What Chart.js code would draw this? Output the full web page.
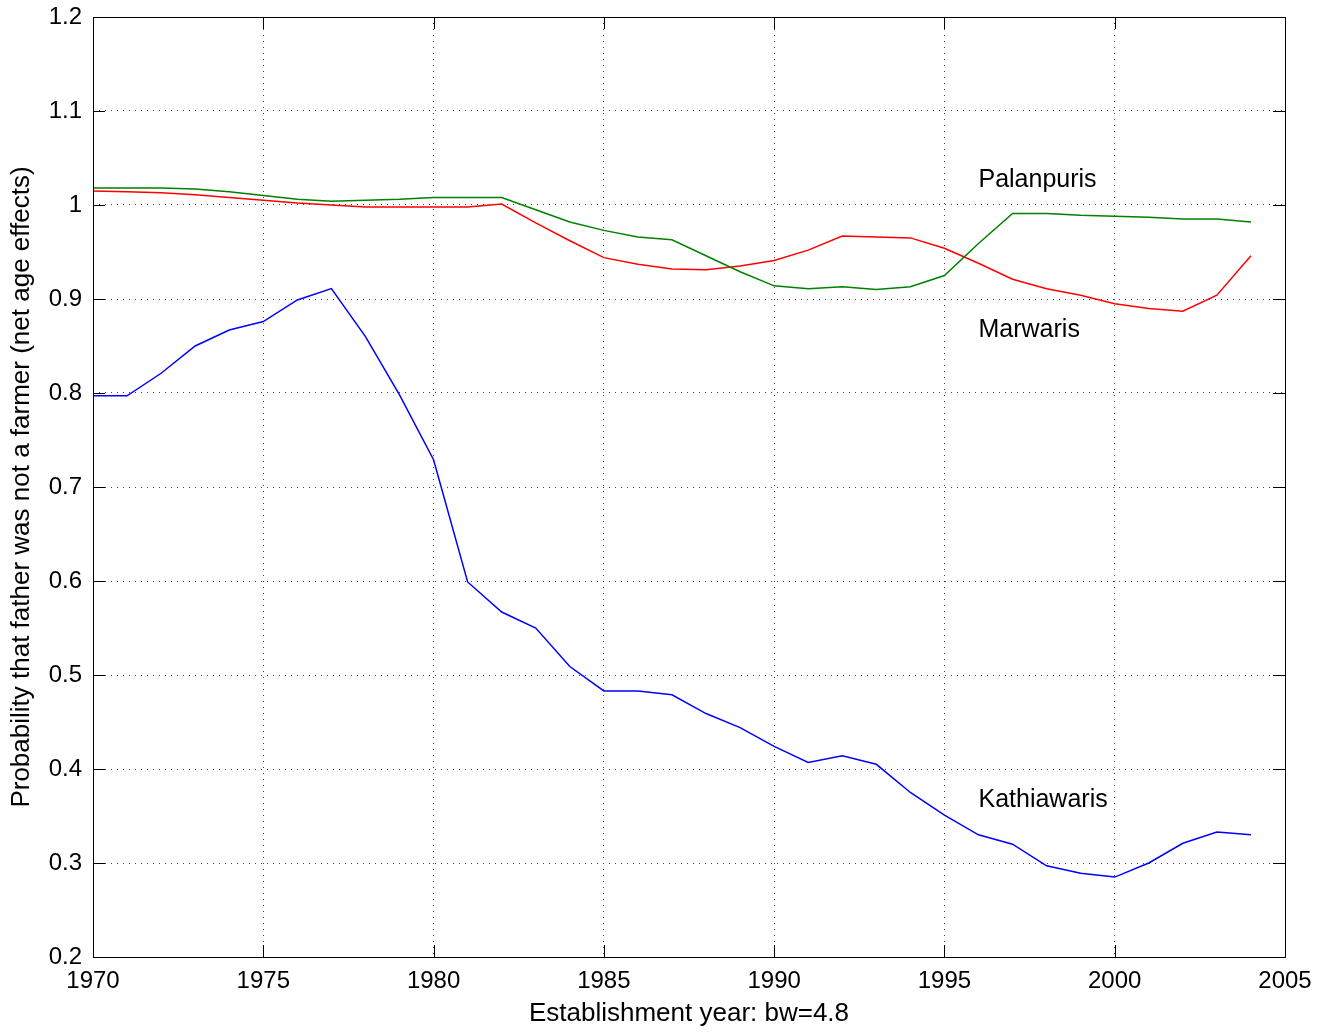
<!DOCTYPE html>
<html>
<head>
<meta charset="utf-8">
<script src="https://cdn.jsdelivr.net/npm/chart.js@4/dist/chart.umd.min.js"></script>
<style>
  html, body { margin: 0; padding: 0; background: #fff; }
  #wrap { width: 1328px; height: 1035px; }
</style>
</head>
<body>
<div id="wrap"><canvas id="chart" width="1328" height="1035"></canvas></div>
<script>
  const years = [1970, 1971, 1972, 1973, 1974, 1975, 1976, 1977, 1978, 1979,
    1980, 1981, 1982, 1983, 1984, 1985, 1986, 1987, 1988, 1989,
    1990, 1991, 1992, 1993, 1994, 1995, 1996, 1997, 1998, 1999,
    2000, 2001, 2002, 2003, 2004];

  const kathiawaris = [0.797, 0.797, 0.821, 0.850, 0.867, 0.876, 0.899, 0.911, 0.860, 0.798,
    0.729, 0.599, 0.567, 0.550, 0.509, 0.483, 0.483, 0.479, 0.459, 0.444,
    0.424, 0.407, 0.414, 0.405, 0.375, 0.351, 0.330, 0.320, 0.297, 0.289,
    0.285, 0.300, 0.321, 0.333, 0.330];

  const palanpuris = [1.018, 1.018, 1.018, 1.017, 1.014, 1.010, 1.006, 1.004, 1.005, 1.006,
    1.008, 1.008, 1.008, 0.995, 0.982, 0.973, 0.966, 0.963, 0.946, 0.929,
    0.914, 0.911, 0.913, 0.910, 0.913, 0.925, 0.959, 0.991, 0.991, 0.989,
    0.988, 0.987, 0.985, 0.985, 0.982];

  const marwaris = [1.015, 1.014, 1.013, 1.011, 1.008, 1.005, 1.002, 1.000, 0.998, 0.998,
    0.998, 0.998, 1.001, 0.981, 0.962, 0.944, 0.937, 0.932, 0.931, 0.935,
    0.941, 0.952, 0.967, 0.966, 0.965, 0.954, 0.938, 0.921, 0.911, 0.904,
    0.895, 0.890, 0.887, 0.904, 0.946];

  const xTicks = [1970, 1975, 1980, 1985, 1990, 1995, 2000, 2005];
  const yTicks = [0.2, 0.3, 0.4, 0.5, 0.6, 0.7, 0.8, 0.9, 1, 1.1, 1.2];

  // text labels placed in data coordinates (left edge, baseline)
  const labelNames = ['Palanpuris', 'Marwaris', 'Kathiawaris'];
  const labelX = [1996, 1996, 1996];
  const labelY = [1.0195, 0.8596, 0.3599];

  const FONT = '"Liberation Sans", Arial, sans-serif';

  function series(values) {
    return values.map((v, i) => ({ x: years[i], y: v }));
  }

  function fmt(v) {
    return String(Number(v.toFixed(1)));
  }

  const frame = {
    id: 'frame',
    afterDraw(chart) {
      const { ctx, chartArea: a, scales: { x, y } } = chart;
      const len = 12;
      ctx.save();
      ctx.strokeStyle = '#000';
      ctx.lineWidth = 1;
      ctx.beginPath();
      xTicks.forEach((t) => {
        const px = Math.round(x.getPixelForValue(t)) + 0.5;
        ctx.moveTo(px, a.bottom); ctx.lineTo(px, a.bottom - len);
        ctx.moveTo(px, a.top); ctx.lineTo(px, a.top + len);
      });
      yTicks.forEach((t) => {
        const py = Math.round(y.getPixelForValue(t)) + 0.5;
        ctx.moveTo(a.left, py); ctx.lineTo(a.left + len, py);
        ctx.moveTo(a.right, py); ctx.lineTo(a.right - len, py);
      });
      ctx.stroke();
      ctx.strokeRect(Math.round(a.left) + 0.5, Math.round(a.top) + 0.5,
        Math.round(a.right - a.left), Math.round(a.bottom - a.top));

      ctx.fillStyle = '#000';
      ctx.font = '25px ' + FONT;
      ctx.textAlign = 'left';
      ctx.textBaseline = 'alphabetic';
      labelNames.forEach((name, i) => {
        ctx.fillText(name, x.getPixelForValue(labelX[i]), y.getPixelForValue(labelY[i]));
      });
      ctx.restore();
    },
  };

  new Chart(document.getElementById('chart'), {
    type: 'line',
    data: {
      datasets: [
        { label: 'Kathiawaris', data: series(kathiawaris), borderColor: '#0000ff' },
        { label: 'Palanpuris', data: series(palanpuris), borderColor: '#008000' },
        { label: 'Marwaris', data: series(marwaris), borderColor: '#ff0000' },
      ],
    },
    options: {
      responsive: false,
      animation: false,
      layout: { padding: { top: 17, right: 43, left: 0, bottom: 0 } },
      elements: {
        line: { borderWidth: 1.5, tension: 0, fill: false },
        point: { radius: 0 },
      },
      plugins: { legend: { display: false }, tooltip: { enabled: false } },
      scales: {
        x: {
          type: 'linear',
          min: 1970,
          max: 2005,
          afterBuildTicks: (s) => { s.ticks = xTicks.map((v) => ({ value: v })); },
          afterFit: (s) => { s.height = 78; s.paddingLeft = 0; s.paddingRight = 0; },
          ticks: {
            padding: 10,
            color: '#000',
            font: { family: FONT, size: 24 },
            maxRotation: 0,
            callback: (v) => String(v),
          },
          grid: { color: '#444', lineWidth: 1, drawTicks: false },
          border: { display: false, dash: [1, 5] },
          title: {
            display: true,
            text: 'Establishment year: bw=4.8',
            color: '#000',
            font: { family: FONT, size: 26 },
            padding: { top: 0, bottom: 6 },
          },
        },
        y: {
          min: 0.2,
          max: 1.2,
          afterBuildTicks: (s) => { s.ticks = yTicks.map((v) => ({ value: v })); },
          afterFit: (s) => { s.width = 93; s.paddingTop = 0; s.paddingBottom = 0; },
          ticks: {
            padding: 11,
            color: '#000',
            font: { family: FONT, size: 24 },
            callback: (v) => fmt(v),
          },
          grid: { color: '#444', lineWidth: 1, drawTicks: false },
          border: { display: false, dash: [1, 5] },
          title: {
            display: true,
            text: 'Probability that father was not a farmer (net age effects)',
            color: '#000',
            font: { family: FONT, size: 26 },
            padding: { top: 6, bottom: 0 },
          },
        },
      },
    },
    plugins: [frame],
  });
</script>
</body>
</html>
